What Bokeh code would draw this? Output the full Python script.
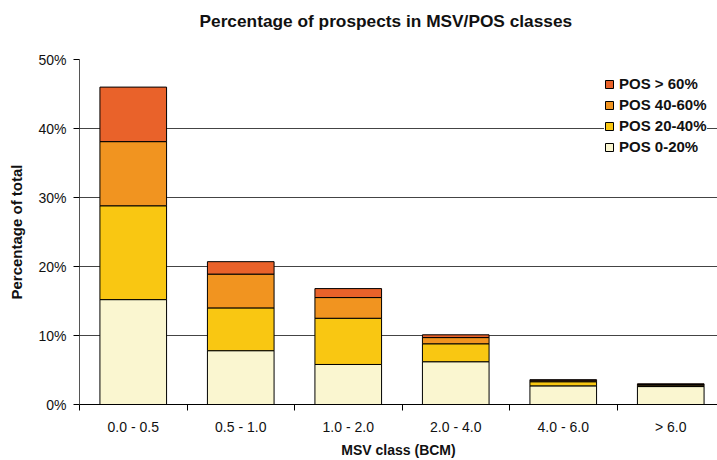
from bokeh.plotting import figure
from bokeh.models import ColumnDataSource, FixedTicker, Legend, LegendItem, Range1d, Title
from bokeh.embed import file_html
from bokeh.resources import INLINE

categories = ["0.0 - 0.5", "0.5 - 1.0", "1.0 - 2.0", "2.0 - 4.0", "4.0 - 6.0", "> 6.0"]
pos_0_20 = [15.2, 7.8, 5.8, 6.2, 2.7, 2.6]
pos_20_40 = [13.6, 6.2, 6.7, 2.6, 0.6, 0.2]
pos_40_60 = [9.3, 4.9, 3.0, 0.9, 0.15, 0.1]
pos_60_up = [7.9, 1.8, 1.3, 0.4, 0.15, 0.1]
series_names = ["POS 0-20%", "POS 20-40%", "POS 40-60%", "POS > 60%"]
series_colors = ["#FAF6D0", "#F9C712", "#F19420", "#E9622A"]
y_ticks = [0, 10, 20, 30, 40, 50]
y_tick_labels = ["0%", "10%", "20%", "30%", "40%", "50%"]

FONT = "Liberation Sans"
TEXT = "#111111"

centers = [i + 0.5 for i in range(len(categories))]
keys = ["s0", "s1", "s2", "s3"]
source = ColumnDataSource(data=dict(x=centers, s0=pos_0_20, s1=pos_20_40, s2=pos_40_60, s3=pos_60_up))

W, H = 717, 460
ML, MR, MT, MB = 79, 0, 59, 56
CAT_PX = 107.5

p = figure(width=W, height=H,
           x_range=Range1d(0, (W - ML - MR) / CAT_PX), y_range=Range1d(0, 50),
           output_backend="svg", toolbar_location=None,
           min_border_left=ML, min_border_right=MR, min_border_top=MT, min_border_bottom=MB)

renderers = p.vbar_stack(keys, x="x", width=0.62, source=source,
                         fill_color=series_colors, line_color="black", line_width=1)

p.outline_line_color = None
p.background_fill_color = "white"

# title
p.title.text = "Percentage of prospects in MSV/POS classes"
p.title.text_font = FONT
p.title.text_font_size = "17.3px"
p.title.text_font_style = "bold"
p.title.text_color = TEXT
p.title.align = "left"
p.title.offset = 120
p.title.standoff = 2
# spacer between title and plot area
p.add_layout(Title(text=" ", text_font_size="1px", standoff=25), "above")

# grid
p.xgrid.visible = False
p.ygrid.ticker = FixedTicker(ticks=y_ticks[1:-1])
p.ygrid.grid_line_color = "#444444"
p.ygrid.grid_line_width = 1

# y axis
ya = p.yaxis[0]
ya.ticker = FixedTicker(ticks=y_ticks)
ya.major_label_overrides = {t: l for t, l in zip(y_ticks, y_tick_labels)}
ya.minor_tick_line_color = None
ya.major_tick_in = 0
ya.major_tick_out = 6
ya.major_tick_line_color = "black"
ya.axis_line_color = "#555555"
ya.major_label_text_font = FONT
ya.major_label_text_font_size = "14px"
ya.major_label_text_color = TEXT
ya.major_label_standoff = 7
ya.axis_label = "Percentage of total"
ya.axis_label_text_font = FONT
ya.axis_label_text_font_size = "15px"
ya.axis_label_text_font_style = "bold"
ya.axis_label_text_color = TEXT
ya.axis_label_standoff = 10

# x axis
xa = p.xaxis[0]
xa.ticker = FixedTicker(ticks=centers, minor_ticks=list(range(len(categories) + 1)))
xa.major_label_overrides = {c: l for c, l in zip(centers, categories)}
xa.major_tick_in = 0
xa.major_tick_out = 0
xa.minor_tick_in = 0
xa.minor_tick_out = 6
xa.minor_tick_line_color = "black"
xa.axis_line_color = "black"
xa.major_label_text_font = FONT
xa.major_label_text_font_size = "14px"
xa.major_label_text_color = TEXT
xa.major_label_standoff = 8
xa.axis_label = "MSV class (BCM)"
xa.axis_label_text_font = FONT
xa.axis_label_text_font_size = "14px"
xa.axis_label_text_font_style = "bold"
xa.axis_label_text_color = TEXT
xa.axis_label_standoff = 4

# legend (top series first)
items = [LegendItem(label=n, renderers=[r]) for n, r in zip(series_names, renderers)][::-1]
legend = Legend(items=items, location=(525, 249))
legend.label_text_font = FONT
legend.label_text_font_size = "15px"
legend.label_text_font_style = "bold"
legend.label_text_color = TEXT
legend.glyph_width = 10
legend.glyph_height = 10
legend.label_height = 14
legend.spacing = 4
legend.padding = 8
legend.margin = 0
legend.label_standoff = 5
legend.border_line_color = None
legend.background_fill_color = "white"
legend.background_fill_alpha = 1.0
p.add_layout(legend, "center")

open("out.html", "w").write(file_html(p, INLINE))
